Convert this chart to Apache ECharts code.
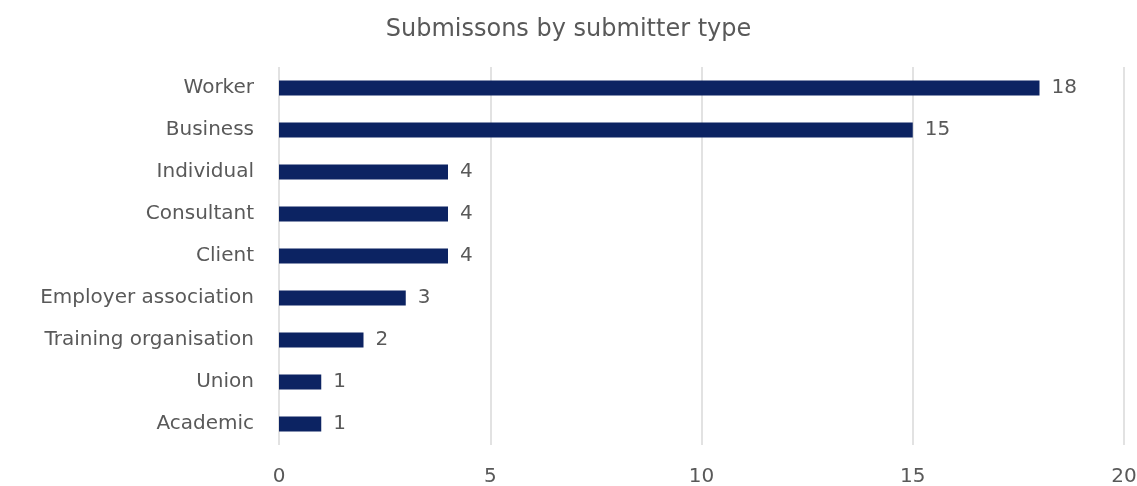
<!DOCTYPE html>
<html><head><meta charset="utf-8">
<script src="https://cdn.jsdelivr.net/npm/echarts@6/dist/echarts.min.js"></script>
<style>html,body{margin:0;padding:0;background:#fff}#c{width:1137px;height:486px}</style>
</head><body><div id="c"></div>
<script>
const categories = ["Worker","Business","Individual","Consultant","Client","Employer association","Training organisation","Union","Academic"];
const values = [18,15,4,4,4,3,2,1,1];
const xTicks = {min:0,max:20,interval:5};
const title = "Submissons by submitter type";

const chart = echarts.init(document.getElementById('c'));
const font = "'DejaVu Sans', sans-serif";
chart.setOption({
  animation:false,
  title:{text:title,left:'center',top:13,textStyle:{fontFamily:font,fontSize:24,fontWeight:'normal',color:'#595959'}},
  grid:{left:279,right:13,top:67,bottom:41,containLabel:false,outerBoundsMode:'none'},
  xAxis:{type:'value',min:xTicks.min,max:xTicks.max,interval:xTicks.interval,
    axisLine:{show:false},axisTick:{show:false},
    splitLine:{lineStyle:{color:'#d9d9d9',width:1.5}},
    axisLabel:{fontFamily:font,fontSize:20,color:'#595959',margin:22}},
  yAxis:{type:'category',data:categories,inverse:true,
    axisLine:{show:false},axisTick:{show:false},
    axisLabel:{fontFamily:font,fontSize:20,color:'#595959',margin:25}},
  series:[{type:'bar',data:values,barWidth:15,itemStyle:{color:'#0c2362'},
    label:{show:true,position:'right',distance:12,fontFamily:font,fontSize:20,color:'#595959'}}]
});
</script></body></html>
